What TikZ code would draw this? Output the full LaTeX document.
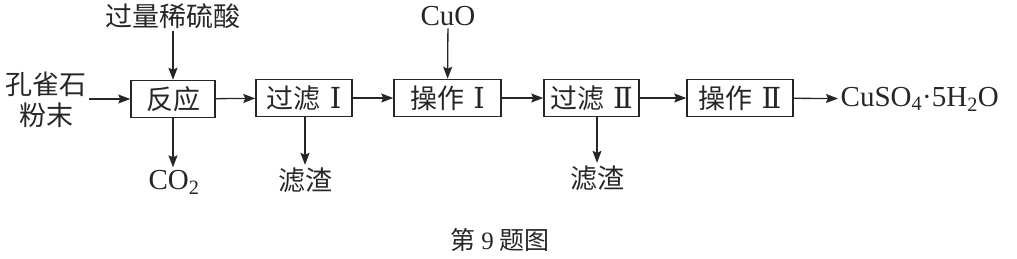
\documentclass[tikz,border=0pt]{standalone}
\usepackage{fontspec}
\setmainfont{Liberation Serif}
\newfontfamily\cjk{Noto Sans CJK SC}
\newfontfamily\numfont{DejaVu Serif}
\newcommand{\rnum}[1]{\hspace{9pt}{\numfont\fontsize{29}{32}\selectfont #1}}
\usepackage{tikz}
\usetikzlibrary{arrows.meta,positioning}

\begin{document}
\begin{tikzpicture}[x=1pt,y=-1pt,
    line width=1.3pt,color=black!85,
    arr/.style={-{Stealth[length=12pt,width=9pt,inset=2pt]}},
    proc/.style={draw,line width=1.5pt,minimum height=37pt,inner sep=0pt,font=\cjk\fontsize{27}{30}\selectfont},
    zh/.style={font=\cjk\fontsize{27}{31}\selectfont,inner sep=2pt},
    chem/.style={font=\fontsize{29}{32}\selectfont,inner sep=2pt}]
        \useasboundingbox (0,0) rectangle (1017,258);
        % process chain
        \node[proc,minimum width=84pt] (r1) at (173,99) {反应};
        \node[proc,minimum width=96pt] (f1) at (304,98) {过滤\rnum{Ⅰ}};
        \node[proc,minimum width=107pt] (o1) at (447.5,98) {操作\rnum{Ⅰ}};
        \node[proc,minimum width=95pt] (f2) at (591.5,98) {过滤\rnum{Ⅱ}};
        \node[proc,minimum width=106pt] (o2) at (740,98) {操作\rnum{Ⅱ}};
        % inputs and outputs
        \node[zh,align=center] (ore) at (46,100) {孔雀石\\粉末};
        \node[zh] (acid) at (173,16) {过量稀硫酸};
        \node[chem] (cuo) at (448,16) {CuO};
        \node[chem] (co2) at (174,182) {CO\textsubscript{2}};
        \node[zh] (w1) at (305,180) {滤渣};
        \node[zh] (w2) at (597,178) {滤渣};
        \node[chem,anchor=west] (prod) at (838,99) {CuSO\textsubscript{4}·5H\textsubscript{2}O};
        \node[font=\cjk\fontsize{25}{28}\selectfont] (cap) at (500,240) {第 {\rmfamily 9} 题图};
        % connectors
        \draw[arr] (ore.east |- r1) -- (r1.west);
        \draw[arr] (acid) -- (r1);
        \draw[arr] (r1) -- (f1);
        \draw[arr] (f1) -- (o1);
        \draw[arr] (cuo) -- (o1);
        \draw[arr] (o1) -- (f2);
        \draw[arr] (f2) -- (o2);
        \draw[arr] (o2) -- (prod);
        \draw[arr] (r1.south) -- (co2.north -| r1);
        \draw[arr] (f1.south -| w1) -- (w1);
        \draw[arr] (f2.south -| w2) -- (w2);
      \end{tikzpicture}
\end{document}
